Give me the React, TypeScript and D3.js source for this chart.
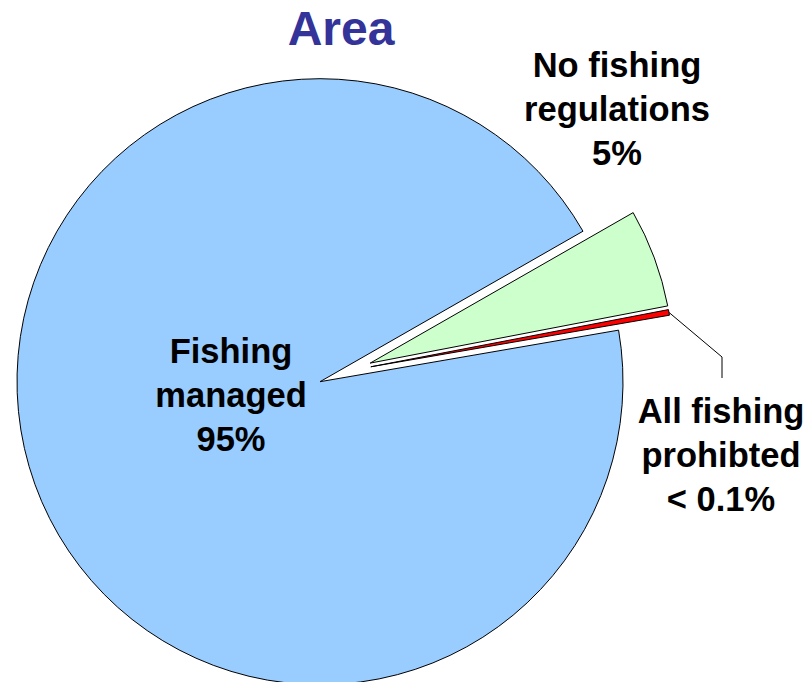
import React from "react";
import * as d3 from "d3";

const categories = ["Fishing managed", "No fishing regulations", "All fishing prohibited"];
const values = [94.45, 5.25, 0.3];
const labelLines = [
  ["Fishing", "managed", "95%"],
  ["No fishing", "regulations", "5%"],
  ["All fishing", "prohibted", "< 0.1%"],
];
const colors = ["#99CCFF", "#CCFFCC", "#FF0000"];
const title = "Area";

const W = 809;
const H = 682;
const CX = 320;
const CY = 381.7;
const R = 303;
const explodeDist = [0, 53.5, 53];
const explodeTwist = [0, 0, 6]; // degrees
const labelPos = [
  { x: 231, y: 363 },
  { x: 617, y: 77 },
  { x: 721, y: 423 },
];
const lineH = 44;
const font = "'Liberation Sans', Arial, Helvetica, sans-serif";

export default function App() {
  const start = (80.2 * Math.PI) / 180;
  const pie = d3
    .pie<number>()
    .sort(null)
    .value((d) => d)
    .startAngle(start)
    .endAngle(start + 2 * Math.PI);
  const arcs = pie(values);
  const arcGen = d3.arc<d3.PieArcDatum<number>>().innerRadius(0).outerRadius(R);

  const offsets = arcs.map((a, i) => {
    const mid = (a.startAngle + a.endAngle) / 2 - (explodeTwist[i] * Math.PI) / 180;
    return [Math.sin(mid) * explodeDist[i], -Math.cos(mid) * explodeDist[i]];
  });

  const red = arcs[2];
  const redMid = (red.startAngle + red.endAngle) / 2;
  const lx0 = CX + offsets[2][0] + Math.sin(redMid) * R;
  const ly0 = CY + offsets[2][1] - Math.cos(redMid) * R;

  return (
    <svg
      width={W}
      height={H}
      style={{ position: "absolute", left: 0, top: 0, background: "#fff" }}
    >
      <text
        x={341}
        y={45}
        textAnchor="middle"
        fontFamily={font}
        fontWeight="bold"
        fontSize={48}
        fill="#333399"
      >
        {title}
      </text>
      {arcs.map((a, i) => (
        <path
          key={categories[i]}
          d={arcGen(a) || ""}
          transform={`translate(${CX + offsets[i][0]},${CY + offsets[i][1]})`}
          fill={colors[i]}
          stroke="#000"
          strokeWidth={1}
          strokeLinejoin="miter"
        />
      ))}
      <polyline
        points={`${lx0},${ly0} 722,357 722,378`}
        fill="none"
        stroke="#000"
        strokeWidth={1}
      />
      {labelLines.map((lines, i) => (
        <text
          key={"l" + i}
          textAnchor="middle"
          fontFamily={font}
          fontWeight="bold"
          fontSize={34.5}
          fill="#000"
        >
          {lines.map((t, j) => (
            <tspan key={j} x={labelPos[i].x} y={labelPos[i].y + j * lineH}>
              {t}
            </tspan>
          ))}
        </text>
      ))}
    </svg>
  );
}
